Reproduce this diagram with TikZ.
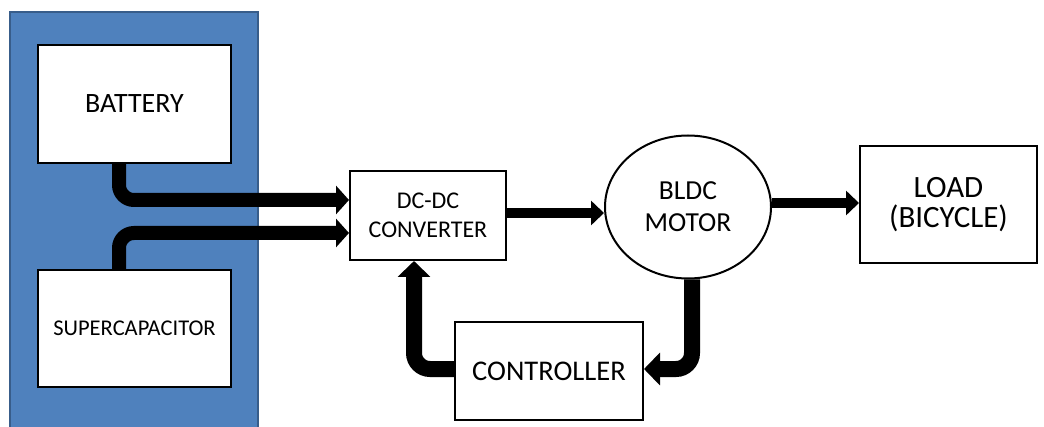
\documentclass[tikz,border=0pt]{standalone}
\usepackage{fontspec}
\setmainfont{Carlito}
\usepackage{tikz}
\usetikzlibrary{positioning,arrows.meta,calc,shapes.geometric}

\begin{document}
\begin{tikzpicture}[x=1pt,y=1pt,
  box/.style={draw=black,line width=2pt,fill=white,inner sep=0pt,align=center,text=black},
  bus/.style={line width=14pt,rounded corners=15pt,-{Triangle[length=13pt,width=28pt]}},
  link/.style={line width=10pt,-{Triangle[length=13pt,width=24pt]}},
  fback/.style={line width=16pt,rounded corners=16pt,-{Triangle[length=16pt,width=32pt]}}]
\definecolor{panelFill}{RGB}{79,129,189}
\definecolor{panelDraw}{RGB}{56,93,138}
\path[use as bounding box,fill=white] (0,0) rectangle (1044,426);
\begin{scope}
\path[clip] (0,0) rectangle (1044,426);
\path[draw=panelDraw,line width=1.5pt,fill=panelFill] (10,-5) rectangle (258,414);
\end{scope}

\node[box,minimum width=193pt,minimum height=118pt,font=\fontsize{28}{33}\selectfont] (bat) at (134.5,322) {BATTERY};
\node[box,minimum width=193pt,minimum height=117pt,font=\fontsize{22.5}{27}\selectfont] (cap) at (134.5,97.5) {SUPERCAPACITOR};
\node[box,minimum width=156pt,minimum height=89pt,font=\fontsize{24}{29}\selectfont] (dcdc) at (428,210.5) {DC-DC\\CONVERTER};
\node[box,ellipse,minimum width=166pt,minimum height=143pt,font=\fontsize{27.5}{32}\selectfont] (motor) at (688,219) {BLDC\\MOTOR};
\node[box,minimum width=177pt,minimum height=117pt,font=\fontsize{31}{30}\selectfont] (load) at (948.5,221.5) {LOAD\\(BICYCLE)};
\node[box,minimum width=188pt,minimum height=98pt,font=\fontsize{28.5}{33}\selectfont] (ctrl) at (549,55) {CONTROLLER};

\draw[bus] ([xshift=-15.5pt]bat.south) |- ([yshift=15.5pt]dcdc.west);
\draw[bus] ([xshift=-15.5pt]cap.north) |- ([yshift=-17.5pt]dcdc.west);
\draw[link] ([yshift=2.5pt]dcdc.east) -- ([yshift=2.5pt]dcdc.east -| motor.west);
\draw[link] ([yshift=4pt]motor.east) -- ([yshift=4pt]motor.east -| load.west);
\draw[fback] ([xshift=4pt]motor.south) |- ([yshift=2pt]ctrl.east);
\draw[fback] ([yshift=2pt]ctrl.west) -| ([xshift=-14pt]dcdc.south);
\end{tikzpicture}
\end{document}
